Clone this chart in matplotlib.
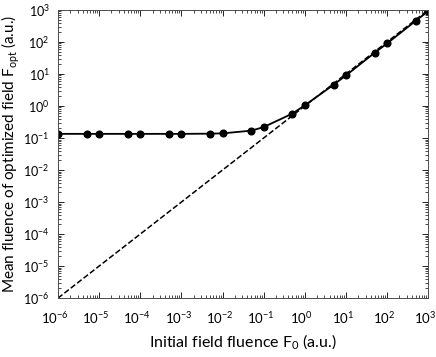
import numpy as np
import matplotlib
matplotlib.use("Agg")
import matplotlib.pyplot as plt
from matplotlib.ticker import LogLocator, NullFormatter
from matplotlib.transforms import ScaledTranslation

# data
f0 = [1e-6, 5e-6, 1e-5, 5e-5, 1e-4, 5e-4, 1e-3, 5e-3, 1e-2, 5e-2, 1e-1,
      5e-1, 1, 5, 10, 50, 100, 500, 1000]
f_opt = [0.135, 0.135, 0.135, 0.135, 0.135, 0.135, 0.135, 0.137, 0.14, 0.17, 0.22,
         0.58, 1.05, 4.6, 9.0, 46, 90, 460, 920]
diag = [1e-6, 1e3]

plt.rcParams['font.family'] = ['Lato', 'DejaVu Sans']
plt.rcParams['mathtext.fontset'] = 'custom'
plt.rcParams['mathtext.rm'] = 'Lato'
plt.rcParams['mathtext.it'] = 'Lato:italic'
fig = plt.figure(figsize=(4.36, 3.57), dpi=100)
ax = fig.add_axes([0.133, 0.165, 0.849, 0.807])

ax.plot(diag, diag, 'k--', lw=1.1)
ax.plot(f0, f_opt, 'k-', lw=1.3, marker='o', ms=4.8)

ax.set_xscale('log')
ax.set_yscale('log')
ax.set_xlim(1e-6, 1e3)
ax.set_ylim(1e-6, 1e3)

for axis in (ax.xaxis, ax.yaxis):
    axis.set_major_locator(LogLocator(base=10, numticks=20))
    axis.set_minor_locator(LogLocator(base=10, subs=np.arange(2, 10), numticks=20))
    axis.set_minor_formatter(NullFormatter())
ax.tick_params(which='both', direction='in', top=True, right=True, labelsize=9.5)
ax.tick_params(which='major', length=4, width=0.6)
ax.tick_params(which='minor', length=2, width=0.5)
ax.tick_params(axis='x', pad=9)
ax.tick_params(axis='y', labelsize=9, pad=6)
for s in ax.spines.values():
    s.set_linewidth(0.7)
    s.set_color('0.3')

# shift x tick labels a little left so the base number sits under the tick
shift = ScaledTranslation(-3 / 100, 0, fig.dpi_scale_trans)
for lab in ax.get_xticklabels():
    lab.set_transform(lab.get_transform() + shift)

ax.set_xlabel('Initial field fluence F$_0$ (a.u.)', fontsize=11.5, labelpad=4)
ax.set_ylabel(r'Mean fluence of optimized field $\overline{\mathrm{F}}_{\mathrm{opt}}$ (a.u.)',
              fontsize=11)
ax.yaxis.set_label_coords(-0.097, 0.5)

fig.savefig('out.png', dpi=100)
